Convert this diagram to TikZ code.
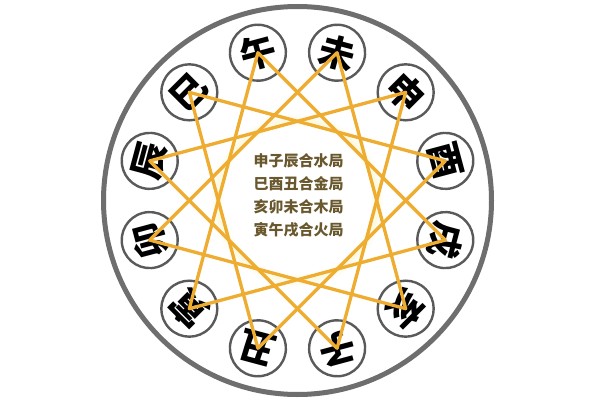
\documentclass[tikz,border=0pt]{standalone}
\usepackage{fontspec}
\usetikzlibrary{calc}
\newfontfamily\cjk{Noto Sans CJK SC}
\definecolor{ringgray}{RGB}{110,110,110}
\definecolor{smallgray}{RGB}{90,90,90}
\definecolor{gold}{RGB}{238,172,48}
\definecolor{txtbrown}{RGB}{105,88,45}
\tikzset{
  branch/.style={circle, draw=smallgray, line width=2.4pt, minimum size=56pt, inner sep=0pt,
    font=\cjk\bfseries\fontsize{36}{36}\selectfont, text=black},
  tri/.style={draw=gold, line width=3.3pt, line join=round},
  centertxt/.style={font=\cjk\bfseries\fontsize{15}{23}\selectfont, text=txtbrown, align=center}
}
\begin{document}
\begin{tikzpicture}[x=1pt,y=1pt]
\useasboundingbox (0,0) rectangle (600,400);
\fill[white] (0,0) rectangle (600,400);
\coordinate (O) at (297.5,199.5);
\draw[ringgray, line width=5pt] (O) circle (194);
% faint glow around the inner region
\foreach \w/\o in {12/0.025,8/0.035,4/0.05}
  \draw[yellow!80!orange, line width=\w pt, opacity=\o] (O) circle (80);
\foreach \n/\c/\a in {zi/子/-75, chou/丑/-105, yin/寅/-135, mao/卯/-165, chen/辰/165, si/巳/135,
                      wu/午/105, wei/未/75, shen/申/45, you/酉/15, xu/戌/-15, hai/亥/-45}
  \node[branch, rotate=\a-90] (\n) at ($(O)+(\a:153)$) {\c};
\draw[tri] (shen.center) -- (zi.center) -- (chen.center) -- cycle;
\draw[tri] (si.center) -- (you.center) -- (chou.center) -- cycle;
\draw[tri] (hai.center) -- (mao.center) -- (wei.center) -- cycle;
\draw[tri] (yin.center) -- (wu.center) -- (xu.center) -- cycle;
\node[centertxt] (txt) at ($(O)+(1,5)$) {申子辰合水局\\巳酉丑合金局\\亥卯未合木局\\寅午戌合火局};
\end{tikzpicture}
\end{document}
